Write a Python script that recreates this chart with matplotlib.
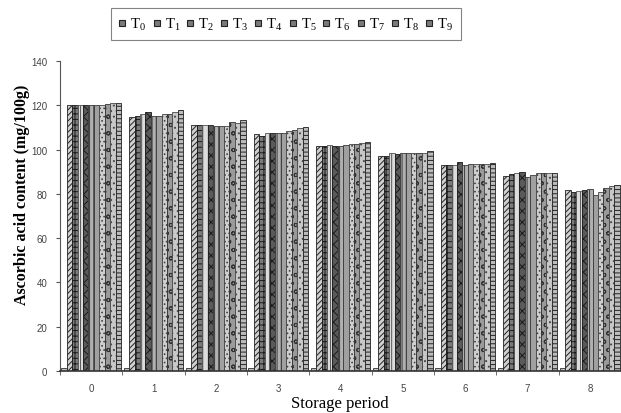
import matplotlib
matplotlib.use("Agg")
import matplotlib.pyplot as plt
from matplotlib.lines import Line2D
import numpy as np

plt.rcParams['mathtext.fontset'] = 'custom'
plt.rcParams['mathtext.rm'] = 'Liberation Serif'
plt.rcParams['mathtext.it'] = 'Liberation Serif:italic'
plt.rcParams['hatch.linewidth'] = 0.7

periods = ['0', '1', '2', '3', '4', '5', '6', '7', '8']
treatments = ['T0', 'T1', 'T2', 'T3', 'T4', 'T5', 'T6', 'T7', 'T8', 'T9']

# Ascorbic acid content (mg/100g): one list per treatment, across storage period
T0 = [120.0, 114.6, 111.2, 107.0, 101.8, 97.3, 93.0, 88.0, 81.9]
T1 = [120.0, 115.0, 111.0, 106.3, 101.5, 97.2, 93.0, 89.0, 81.0]
T2 = [120.0, 116.0, 111.0, 107.4, 102.0, 98.3, 93.0, 89.5, 81.2]
T3 = [120.0, 117.1, 111.0, 107.4, 101.8, 98.2, 94.5, 90.0, 81.9]
T4 = [120.0, 115.0, 110.6, 107.4, 101.8, 98.3, 93.0, 87.5, 82.0]
T5 = [120.0, 115.0, 110.6, 107.5, 102.0, 98.3, 93.3, 88.7, 79.5]
T6 = [120.0, 115.9, 110.8, 108.2, 102.3, 98.3, 93.3, 89.2, 80.7]
T7 = [120.5, 116.0, 112.4, 109.0, 102.6, 98.3, 93.3, 89.6, 82.5]
T8 = [121.0, 117.0, 111.8, 109.6, 103.0, 98.3, 93.3, 89.6, 83.7]
T9 = [121.2, 117.9, 113.2, 110.0, 103.2, 99.5, 94.0, 89.2, 84.2]
base = [1.2, 1.2, 1.2, 1.2, 1.2, 1.2, 1.2, 1.2, 1.2]

series = [T0, T1, T2, T3, T4, T5, T6, T7, T8, T9]

styles = [
    dict(facecolor='#d0d0d0', hatch='//////', edgecolor='#222222'),
    dict(facecolor='#7a7a7a', hatch='+++', edgecolor='#1a1a1a'),
    dict(facecolor='#dcdcdc', hatch='|||', edgecolor='#555555'),
    dict(facecolor='#5a5a5a', hatch='xxx', edgecolor='#1a1a1a'),
    dict(facecolor='#b0b0b0', hatch='||||', edgecolor='#3a3a3a'),
    dict(facecolor='#a0a0a0', hatch='', edgecolor='#3a3a3a'),
    dict(facecolor='#cfcfcf', hatch='....', edgecolor='#444444'),
    dict(facecolor='#9a9a9a', hatch='oo', edgecolor='#333333'),
    dict(facecolor='#c8c8c8', hatch='...', edgecolor='#4a4a4a'),
    dict(facecolor='#bcbcbc', hatch='----', edgecolor='#222222'),
]

fig = plt.figure(figsize=(6.21, 4.14), dpi=100)
ax = fig.add_axes([60/621, 42/414, 1 - 60/621, 310/414])

x = np.arange(len(periods))
w = 0.087
ax.bar(x + (0 - 5) * w, base, width=w, facecolor='#bdbdbd', edgecolor='#333333', linewidth=0.6)
for i, vals in enumerate(series):
    st = styles[i]
    ax.bar(x + (i + 1 - 5) * w, vals, width=w, facecolor=st['facecolor'],
           hatch=st['hatch'], edgecolor=st['edgecolor'], linewidth=0.6)

ax.set_xlim(-0.5, 8.42)
ax.set_ylim(0, 140)
ax.set_yticks(np.arange(0, 141, 20))
ax.set_xticks(x)
ax.set_xticklabels(periods)
ax.set_xticks(np.arange(-0.5, 8.6, 1.0), minor=True)
ax.tick_params(axis='x', which='major', length=0, pad=9, labelsize=7, labelcolor='#444444')
ax.tick_params(axis='x', which='minor', length=3, direction='out', color='#555555')
ax.tick_params(axis='y', length=3, direction='out', labelsize=7, labelcolor='#444444', color='#555555', pad=6)
for lbl in ax.get_xticklabels() + ax.get_yticklabels():
    lbl.set_family('Liberation Sans')
for s in ['top', 'right']:
    ax.spines[s].set_visible(False)
ax.spines['left'].set_color('#555555')
ax.spines['bottom'].set_color('#333333')
ax.spines['bottom'].set_linewidth(1.2)

fig.text(0.036, 0.53, 'Ascorbic acid content (mg/100g)', rotation=90, ha='center', va='center',
         family='Liberation Serif', fontweight='bold', fontsize=11.5)
fig.text(0.548, 0.025, 'Storage period', ha='center', va='center',
         family='Liberation Serif', fontsize=12)

handles = [Line2D([], [], linestyle='none', marker='s', markersize=4,
                  markerfacecolor='#7a7a7a', markeredgecolor='#222222', markeredgewidth=0.8)
           for _ in treatments]
labels = [r'$\mathrm{T}_{%s}$' % t[1:] for t in treatments]
leg = fig.legend(handles, labels, loc='center', bbox_to_anchor=(0.46, 0.94), ncol=10,
                 frameon=True, fancybox=False, edgecolor='#666666', fontsize=10.5,
                 handlelength=0.5, handletextpad=0.3, columnspacing=0.45,
                 borderpad=0.55, borderaxespad=0)
leg.get_frame().set_linewidth(0.8)

fig.savefig('out.png', dpi=100)
